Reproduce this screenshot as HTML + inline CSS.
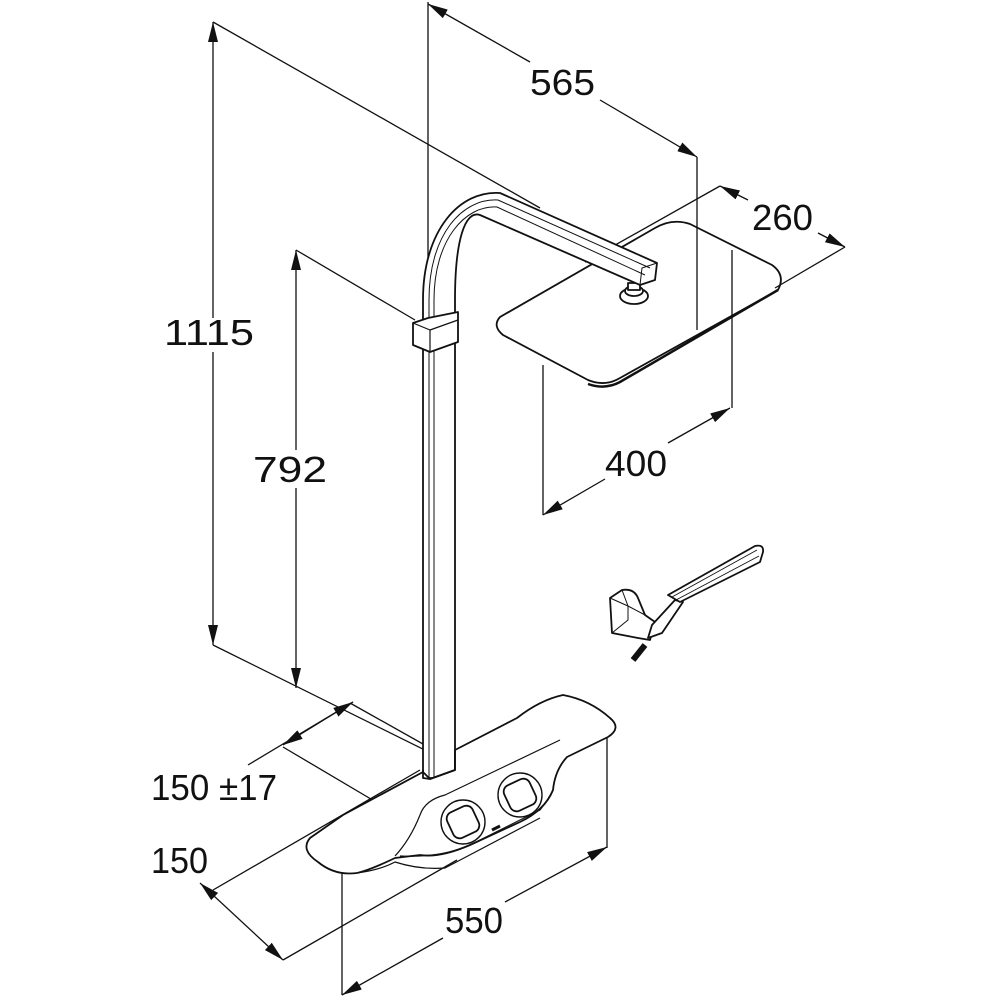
<!DOCTYPE html>
<html><head><meta charset="utf-8"><style>
html,body{margin:0;padding:0;background:#fff;}
svg{display:block;}
text{font-family:"Liberation Sans",sans-serif;font-size:36px;fill:#111;}
</style></head><body>
<svg width="1000" height="1000" viewBox="0 0 1000 1000" xmlns="http://www.w3.org/2000/svg">
<defs>
<marker id="a" viewBox="0 0 20 10" refX="20" refY="5" markerWidth="20" markerHeight="10" markerUnits="userSpaceOnUse" orient="auto-start-reverse">
<path d="M0,0 L20,5 L0,10 z" fill="#111"/></marker>
</defs>
<g stroke="#111" stroke-width="1.3" fill="none">
<line x1="213" y1="22" x2="213" y2="318" marker-start="url(#a)"/>
<line x1="213" y1="352" x2="213" y2="645" marker-end="url(#a)"/>
<line x1="213" y1="22" x2="540" y2="208"/>
<line x1="213" y1="645" x2="455" y2="765"/>
<line x1="296" y1="250" x2="296" y2="450" marker-start="url(#a)"/>
<line x1="296" y1="488" x2="296" y2="688" marker-end="url(#a)"/>
<line x1="296" y1="250" x2="415" y2="320"/>
<line x1="428" y1="2" x2="428" y2="320"/>
<line x1="428" y1="4" x2="530" y2="62" marker-start="url(#a)"/>
<line x1="600" y1="100" x2="697" y2="157" marker-end="url(#a)"/>
<line x1="720" y1="186" x2="748" y2="200" marker-start="url(#a)"/>
<line x1="818" y1="233" x2="845" y2="247" marker-end="url(#a)"/>
<line x1="543" y1="365" x2="543" y2="515"/>
<line x1="543" y1="515" x2="605" y2="479" marker-start="url(#a)"/>
<line x1="668" y1="443" x2="730" y2="408" marker-end="url(#a)"/>
<line x1="248" y1="765" x2="353" y2="702" marker-end="url(#a)"/>
<line x1="353" y1="702" x2="283" y2="745" marker-end="url(#a)"/>
<line x1="283" y1="747" x2="381" y2="805"/>
<line x1="350" y1="703" x2="455" y2="762"/>
<line x1="200" y1="883" x2="283" y2="960" marker-start="url(#a)" marker-end="url(#a)"/>
<line x1="213" y1="890" x2="420" y2="770"/>
<line x1="283" y1="960" x2="457" y2="860"/>
<line x1="342" y1="870" x2="342" y2="995"/>
<line x1="607" y1="725" x2="607" y2="848"/>
<line x1="342" y1="995" x2="443" y2="938" marker-start="url(#a)"/>
<line x1="505" y1="902" x2="607" y2="847" marker-end="url(#a)"/>
</g>
<g stroke="#111" stroke-width="1.8" fill="#fff" stroke-linejoin="round">
<!-- head (behind arm) -->
<path d="M500,317 L655,228 Q672,218 690,224 L772,265 Q786,275 778,290 L620,378 Q605,387 588,380 L503,335 Q492,326 500,317 Z"/>
<path d="M778,290 L620,382 Q605,390 588,384" fill="none" stroke-width="2.5"/>
<g stroke-width="1.3" fill="none">
<line x1="720" y1="186" x2="585" y2="262"/>
<line x1="845" y1="247" x2="775" y2="288"/>
<line x1="697" y1="157" x2="697" y2="330"/>
<line x1="732" y1="250" x2="732" y2="408"/>
</g>
<ellipse cx="634" cy="296" rx="14" ry="8"/>
<ellipse cx="634" cy="291" rx="9" ry="5"/>
<rect x="628" y="283" width="12" height="7"/>
<!-- pipe -->
<path d="M423,778 L423,300 C423,230 460,190 500,193 L657,263 L655,280 L640,285 L480,215 C465,210 455,240 455,300 L455,778 Z"/>
<path d="M429,778 L429,300 C429,235 462,198 498,200 L650,268" fill="none" stroke-width="1"/>
<path d="M434,778 L434,300 C434,240 465,205 497,207 L645,275" fill="none" stroke-width="1"/>
<path d="M640,285 L642,268 L657,263" fill="none" stroke-width="1"/>
<!-- bracket -->
<path d="M413,323 L428,318 L458,312 L458,342 L430,352 L413,345 Z"/>
<path d="M413,323 L430,330 L458,320 M430,330 L430,352" fill="none" stroke-width="1.2"/>
<!-- base plate -->
<path d="M455,750 L517,718 Q540,700 563,695 Q590,700 610,718 Q622,728 608,737 L567,757 Q555,770 553,790 Q545,810 520,822 L470,845 Q440,858 420,855 L395,858 Q370,870 357,873 Q335,876 318,862 Q300,850 310,838 L343,815 L423,772 L430,779 L455,770 Z"/>
<path d="M553,790 Q548,800 540,810 L470,845 Q440,858 400,856" fill="none" stroke-width="1.2"/>
<path d="M357,873 Q380,870 395,862 Q420,870 445,868 L540,818" fill="none" stroke-width="1.2"/>
<path d="M420,815 Q425,800 445,795 L560,740 M420,815 Q410,840 395,856" fill="none" stroke-width="1.2"/>
<path d="M423,770 L423,778 L430,779 L455,770 L455,750" fill="none"/>
<circle cx="463" cy="822" r="22" stroke-width="1.4"/>
<rect x="449" y="808" width="28" height="28" rx="7" transform="rotate(-25 463 822)"/>
<circle cx="520" cy="795" r="22" stroke-width="1.4"/>
<rect x="506" y="781" width="28" height="28" rx="7" transform="rotate(-25 520 795)"/>
<line x1="492" y1="830" x2="500" y2="826" stroke-width="3"/>
<!-- hand shower -->
<line x1="633" y1="660" x2="645" y2="645" stroke-width="6"/>
<path d="M610,598 L622,590 Q634,588 638,598 L645,615 L655,622 L650,640 L638,638 L612,633 Z"/>
<path d="M622,590 L628,606 L645,615 M610,598 L628,606 L628,620 L612,633" fill="none" stroke-width="1"/>
<path d="M648,638 L652,625 L675,600 L683,602 L662,633 Z"/>
<path d="M668,595 L755,546 Q764,544 763,552 L760,562 L680,602 Z"/>
<path d="M672,597 L757,550 M676,600 L759,556" fill="none" stroke-width="0.9"/>
</g>
<text x="164" y="345" textLength="90" lengthAdjust="spacingAndGlyphs">1115</text>
<text x="253" y="482" textLength="74" lengthAdjust="spacingAndGlyphs">792</text>
<text x="530" y="95" textLength="65" lengthAdjust="spacingAndGlyphs">565</text>
<text x="752" y="230" textLength="61" lengthAdjust="spacingAndGlyphs">260</text>
<text x="605" y="476" textLength="62" lengthAdjust="spacingAndGlyphs">400</text>
<text x="151" y="800" textLength="126" lengthAdjust="spacingAndGlyphs">150 ±17</text>
<text x="151" y="873" textLength="57" lengthAdjust="spacingAndGlyphs">150</text>
<text x="445" y="933" textLength="58" lengthAdjust="spacingAndGlyphs">550</text>
</svg>
</body></html>
